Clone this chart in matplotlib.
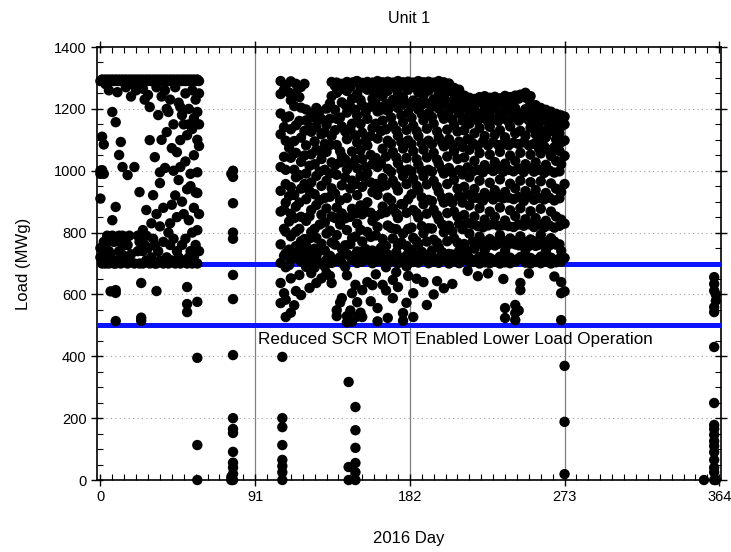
import matplotlib.pyplot as plt
from matplotlib.ticker import MultipleLocator

plt.rcParams['font.family'] = ['Liberation Sans', 'DejaVu Sans']

# (day, [loads in MWg])
winter = [
    (0, [1290, 1000, 990, 910, 750, 720]),
    (1, [1295, 1110, 1002, 700]),
    (2, [1290, 1085, 990, 770, 720]),
    (3, [1295, 1280, 760, 700]),
    (4, [1290, 790, 730]),
    (5, [1295, 1260, 780, 740, 700]),
    (6, [1290, 725, 780, 610]),
    (7, [1295, 1190, 840, 790, 710]),
    (8, [1290, 770, 700]),
    (9, [1295, 1157, 883, 700, 614, 605, 514]),
    (10, [1290, 1254, 780, 710]),
    (11, [1295, 1051, 790, 740]),
    (12, [1290, 1093, 770, 700]),
    (13, [1295, 1012, 728, 790]),
    (14, [1290, 760, 710]),
    (15, [1295, 1270, 780]),
    (16, [1290, 986, 700, 760]),
    (17, [1295, 790, 720]),
    (18, [1290, 1240, 730]),
    (19, [1295, 1280]),
    (20, [1290, 1012, 700]),
    (21, [1295, 1260]),
    (22, [1290, 790, 740]),
    (23, [1295, 931, 770, 700]),
    (24, [1290, 637, 525, 515, 790]),
    (25, [1295, 1265, 808, 740, 700]),
    (26, [1290, 1230, 760]),
    (27, [1295, 873, 710, 790]),
    (28, [1290, 1245, 750]),
    (29, [1295, 1206, 1099, 700]),
    (30, [1290, 830, 720]),
    (31, [1295, 921, 780]),
    (32, [1290, 1044, 760, 700]),
    (33, [1295, 1270, 860, 611, 700]),
    (34, [1290, 1180, 740]),
    (35, [1295, 995, 960, 820, 710]),
    (36, [1290, 1100, 1240]),
    (37, [1295, 880, 770, 700]),
    (38, [1290, 1009, 1260]),
    (39, [1295, 1125, 1200, 720]),
    (40, [1290, 1190, 800, 700]),
    (41, [1295, 830, 1230, 760]),
    (42, [1290, 1073, 890, 710]),
    (43, [1295, 1150, 1000, 780]),
    (44, [1290, 1270, 920, 700]),
    (45, [1295, 1060, 850, 740]),
    (46, [1290, 1220, 970, 720]),
    (47, [1295, 1206, 1099, 1012, 700]),
    (48, [1290, 1180, 900, 760]),
    (49, [1295, 1150, 860, 710]),
    (50, [1290, 1030, 1250, 780]),
    (51, [1295, 1115, 624, 569, 543, 700, 940]),
    (52, [1290, 1200, 1150, 840, 720]),
    (53, [1295, 990, 950, 740]),
    (54, [1290, 1135, 1260, 800, 700]),
    (55, [1295, 1170, 1050, 880, 720]),
    (56, [1290, 1230, 930, 760]),
    (57, [1295, 1190, 1100, 995, 928, 808, 700, 576, 395, 113, 0]),
    (58, [1290, 1250, 1150, 1080, 860, 740]),
]

spring = [
    (77, [990, 10, 0]),
    (78, [1000, 980, 895, 800, 780, 663, 585, 404, 200, 165, 152, 91, 56, 40, 20, 0]),
]

summer = [
    (106, [1290, 1248, 1185, 1118, 1012, 935, 868, 762, 702, 637, 572]),
    (107, [398, 200, 171, 113, 65, 45, 25, 0]),
    (109, [1276, 1171, 1097, 1003, 957, 897, 803, 733, 688, 583, 527]),
    (112, [1289, 1228, 1134, 1042, 947, 861, 788, 711, 652, 541]),
    (115, [1281, 1252, 1147, 1058, 979, 884, 803, 756, 719, 611]),
    (118, [1271, 1204, 1107, 1029, 942, 851, 772, 706, 598]),
    (121, [1198, 1163, 1082, 991, 908, 838, 757, 701, 689]),
    (124, [1186, 1126, 1053, 962, 873, 802, 738, 669]),
    (127, [1203, 1141, 1068, 983, 889, 783, 722, 704, 637]),
    (130, [1167, 1118, 1038, 951, 858, 764, 701, 652]),
    (133, [1201, 1149, 1061, 968, 878, 797, 712, 669]),
    (136, [1287, 1241, 1112, 1027, 943, 852, 768, 702, 637]),
    (139, [1285, 1252, 1168, 1083, 987, 881, 792, 709, 549, 530]),
    (142, [1281, 1221, 1143, 1047, 953, 862, 748, 702, 588]),
    (145, [1287, 1258, 1188, 1102, 1004, 912, 808, 731, 662, 530, 510]),
    (146, [317, 42, 0]),
    (148, [1285, 1232, 1152, 1062, 968, 877, 782, 711, 604, 512]),
    (150, [236, 161, 104, 55, 25, 0]),
    (151, [1290, 1248, 1178, 1091, 1008, 921, 829, 739, 702, 575, 528]),
    (154, [1284, 1212, 1123, 1038, 948, 859, 771, 706, 614, 527]),
    (157, [1287, 1262, 1168, 1082, 992, 898, 802, 721, 640]),
    (160, [1285, 1233, 1138, 1021, 931, 838, 742, 701, 630]),
    (163, [1290, 1250, 1192, 1104, 1012, 922, 818, 733, 556, 513]),
    (166, [1286, 1241, 1162, 1071, 976, 884, 779, 706, 631]),
    (169, [1288, 1258, 1194, 1097, 1006, 913, 823, 729, 702, 524]),
    (172, [1285, 1229, 1148, 1061, 968, 878, 781, 708, 647, 588]),
    (175, [1290, 1251, 1203, 1113, 1024, 936, 847, 758, 701, 624]),
    (178, [1286, 1238, 1157, 1072, 983, 891, 797, 719, 540, 515]),
    (181, [1288, 1262, 1187, 1098, 1004, 908, 812, 732, 700, 660]),
    (184, [1285, 1227, 1146, 1063, 974, 873, 783, 705, 604, 527]),
    (187, [1290, 1254, 1198, 1112, 1019, 937, 849, 762, 703]),
    (190, [1286, 1243, 1163, 1068, 982, 892, 798, 721, 640]),
    (193, [1288, 1259, 1186, 1097, 1003, 906, 814, 729, 701]),
    (196, [1285, 1231, 1152, 1058, 967, 874, 777, 706, 600]),
    (199, [1290, 1252, 1201, 1108, 1022, 932, 842, 753, 702]),
    (202, [1286, 1239, 1168, 1079, 991, 897, 801, 718, 620]),
    (205, [1282, 1258, 1191, 1102, 1009, 913, 822, 731, 700]),
    (208, [1268, 1232, 1147, 1063, 971, 868, 782, 707]),
    (211, [1262, 1221, 1186, 1094, 1002, 918, 829, 741, 701]),
    (214, [1243, 1204, 1131, 1043, 948, 857, 763, 712]),
    (217, [1236, 1192, 1152, 1068, 979, 888, 797, 718, 702]),
    (220, [1232, 1198, 1121, 1032, 941, 852, 748, 706]),
    (223, [1238, 1183, 1138, 1057, 968, 879, 787, 721, 700]),
    (226, [1241, 1201, 1112, 1018, 928, 842, 742, 704]),
    (229, [1236, 1188, 1142, 1052, 961, 868, 779, 718, 701]),
    (232, [1239, 1203, 1117, 1028, 937, 851, 758, 706]),
    (235, [1234, 1182, 1131, 1061, 972, 881, 792, 722, 700]),
    (238, [1242, 1198, 1108, 1023, 931, 839, 741, 704, 556, 524]),
    (241, [1238, 1191, 1143, 1049, 958, 872, 781, 719, 701]),
    (244, [1243, 1202, 1121, 1032, 943, 853, 762, 706, 566, 540, 517]),
    (247, [1246, 1184, 1129, 1058, 968, 879, 788, 721, 637, 614]),
    (250, [1252, 1199, 1113, 1021, 934, 843, 744, 703]),
    (253, [1241, 1188, 1139, 1052, 963, 869, 778, 718, 700]),
    (256, [1212, 1176, 1118, 1027, 938, 847, 757, 705]),
    (259, [1203, 1163, 1102, 1056, 966, 877, 793, 722, 701]),
    (262, [1197, 1161, 1108, 1019, 928, 838, 739, 706]),
    (265, [1191, 1152, 1128, 1048, 959, 868, 782, 719, 700]),
    (268, [1184, 1158, 1101, 1032, 942, 852, 761, 704]),
    (271, [1179, 1143, 1092, 1021, 931, 842, 741, 706, 640, 604, 517]),
    (273, [1175, 1150, 1098, 1048, 957, 829, 718, 610, 369, 188, 19]),
]

# second pass over the same months, the points lying between the columns above
summer_fill = [
    (108, [1262, 1141, 1045, 874, 812, 725, 604]),
    (111, [1253, 1176, 1074, 918, 836, 745, 695]),
    (114, [1209, 1096, 1003, 922, 847, 733, 565]),
    (117, [1238, 1161, 986, 897, 812, 741, 663]),
    (120, [1281, 1129, 1049, 957, 779, 726]),
    (123, [1142, 1016, 934, 853, 781, 712, 621]),
    (126, [1171, 1095, 1021, 924, 812, 748, 687]),
    (129, [1192, 1063, 997, 905, 826, 741]),
    (132, [1125, 1087, 1003, 912, 833, 742, 690]),
    (135, [1218, 1168, 1083, 991, 916, 806, 725, 660]),
    (138, [1274, 1197, 1131, 1018, 926, 847, 761, 712]),
    (141, [1263, 1172, 1063, 1027, 904, 826, 721, 574]),
    (144, [1276, 1213, 1127, 1036, 978, 846, 759, 689]),
    (147, [1271, 1206, 1133, 1021, 943, 851, 763, 723, 548]),
    (150, [1288, 1197, 1114, 1036, 957, 862, 787, 719, 631]),
    (153, [1268, 1229, 1151, 1066, 983, 888, 809, 738, 541]),
    (156, [1276, 1188, 1097, 1012, 973, 869, 747, 714]),
    (159, [1263, 1207, 1112, 1051, 962, 864, 786, 723, 578]),
    (162, [1279, 1217, 1152, 1041, 957, 853, 791, 706, 665]),
    (165, [1268, 1197, 1128, 1024, 948, 861, 751, 722]),
    (168, [1272, 1216, 1134, 1046, 953, 866, 757, 688, 613]),
    (171, [1276, 1208, 1172, 1087, 996, 904, 815, 724]),
    (174, [1268, 1221, 1131, 1043, 951, 862, 811, 736, 672]),
    (177, [1277, 1212, 1179, 1092, 1003, 892, 768, 713]),
    (180, [1269, 1219, 1132, 1041, 957, 864, 757, 691, 573]),
    (183, [1274, 1208, 1171, 1086, 997, 924, 816, 744, 712]),
    (186, [1267, 1221, 1128, 1037, 951, 863, 772, 729, 651]),
    (189, [1276, 1214, 1183, 1089, 1001, 914, 821, 738]),
    (192, [1269, 1218, 1136, 1043, 956, 861, 771, 712, 566]),
    (195, [1274, 1207, 1174, 1086, 997, 902, 813, 742]),
    (198, [1268, 1222, 1127, 1036, 948, 856, 767, 716, 643]),
    (201, [1276, 1213, 1181, 1091, 1004, 912, 826, 737]),
    (204, [1265, 1222, 1133, 1046, 957, 863, 772, 717]),
    (207, [1256, 1211, 1166, 1081, 994, 897, 805, 729, 634]),
    (210, [1248, 1203, 1127, 1038, 942, 852, 768, 712]),
    (213, [1241, 1213, 1162, 1077, 988, 897, 811, 726]),
    (216, [1218, 1173, 1102, 1011, 923, 831, 741, 709, 676]),
    (219, [1224, 1168, 1089, 998, 911, 827, 771, 711]),
    (222, [1221, 1162, 1081, 1003, 912, 821, 763, 716, 659]),
    (225, [1226, 1171, 1094, 995, 903, 817, 771, 711]),
    (228, [1219, 1158, 1082, 1006, 917, 823, 758, 716, 668]),
    (231, [1224, 1166, 1093, 999, 907, 827, 771, 712]),
    (234, [1218, 1161, 1083, 1007, 916, 822, 764, 715]),
    (237, [1223, 1169, 1088, 997, 911, 824, 773, 711, 650]),
    (240, [1221, 1159, 1082, 1003, 913, 821, 762, 716]),
    (243, [1226, 1173, 1091, 998, 908, 818, 772, 711]),
    (246, [1233, 1162, 1086, 1006, 915, 826, 759, 716, 548]),
    (249, [1238, 1172, 1092, 996, 902, 822, 771, 712]),
    (252, [1229, 1163, 1082, 1008, 918, 827, 757, 717, 668]),
    (255, [1209, 1146, 1087, 997, 906, 818, 772, 711]),
    (258, [1188, 1137, 1071, 1003, 912, 826, 761, 716]),
    (261, [1182, 1129, 1079, 993, 907, 817, 771, 712]),
    (264, [1173, 1136, 1067, 1001, 913, 823, 758, 715]),
    (267, [1168, 1128, 1076, 994, 904, 816, 771, 711, 658]),
    (270, [1163, 1121, 1064, 998, 911, 822, 762, 716]),
]

december = [
    (355, [0]),
    (361, [656, 634, 612, 559, 543, 430, 249, 178, 165, 146, 126, 110, 90, 65, 40, 25, 0]),
    (362, [600, 580, 0]),
]

limit_lines = [700, 500]
x_ticks = [0, 91, 182, 273, 364]

days, loads = [], []
for group in [winter, spring, summer, summer_fill, december]:
    for d, vals in group:
        for v in vals:
            days.append(d)
            loads.append(v)

fig = plt.figure(figsize=(7.31, 5.52), dpi=100)
ax = fig.add_axes([0.1327, 0.1304, 0.8536, 0.7844])

for y in limit_lines:
    ax.axhline(y, color='#0a14ff', lw=3.6, zorder=3)

ax.scatter(days, loads, s=56, c='black', edgecolors='none', zorder=4, clip_on=False)

ax.text(92.5, 455, 'Reduced SCR MOT Enabled Lower Load Operation',
        fontsize=12.3, va='center', ha='left', zorder=5)

ax.set_xlim(-2, 365)
ax.set_ylim(0, 1400)
ax.set_xticks(x_ticks)
ax.xaxis.set_minor_locator(MultipleLocator(7))
ax.yaxis.set_major_locator(MultipleLocator(200))
ax.yaxis.set_minor_locator(MultipleLocator(50))

for x in x_ticks[1:-1]:
    ax.axvline(x, color='#808080', lw=0.9, zorder=1)
for y in range(200, 1400, 200):
    ax.axhline(y, color='#a0a0a0', lw=0.8, ls=(0, (1, 3)), zorder=1)

ax.tick_params(which='major', direction='inout', length=8, width=1,
               top=True, right=True, labelsize=10.5)
ax.tick_params(which='minor', direction='in', length=4, width=0.8,
               top=True, right=True)
for s in ax.spines.values():
    s.set_linewidth(1.2)

ax.set_title('Unit 1', fontsize=11.5, pad=17)
ax.set_xlabel('2016 Day', fontsize=12, labelpad=19)
ax.set_ylabel('Load (MWg)', fontsize=12, labelpad=16)

fig.savefig('out.png', dpi=100)
